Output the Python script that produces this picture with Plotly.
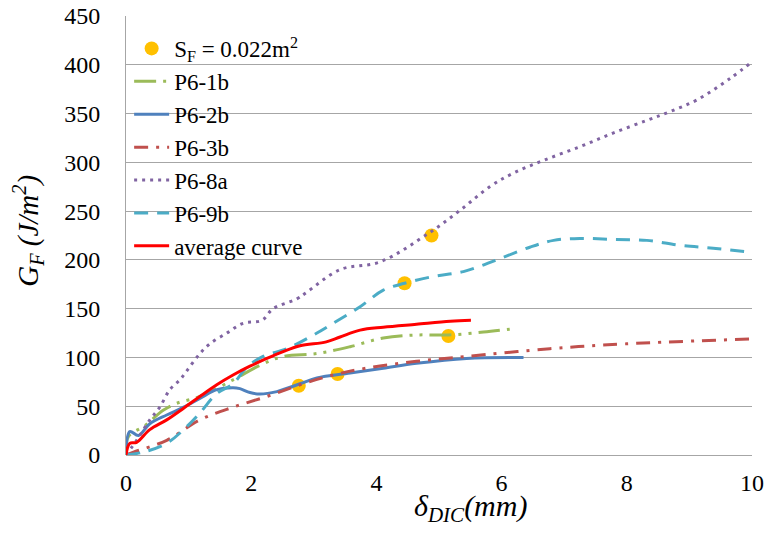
import plotly.graph_objects as go

# S_F = 0.022 m^2 points
sf_x = [2.76, 3.38, 4.45, 4.88, 5.15]
sf_y = [71, 83, 176, 225, 122]

p61b_x = [0, 0.04, 0.3, 0.6, 0.81, 1.18, 1.71, 2.14, 2.51, 3.05, 3.58, 4.11, 4.64, 5.15, 5.71, 6.13]
p61b_y = [0, 19, 30, 46, 53, 60, 77, 92, 101, 104, 111, 120, 123, 123, 126, 129]

p62b_x = [0, 0.06, 0.2, 0.38, 0.65, 0.92, 1.18, 1.45, 1.71, 1.82, 1.98, 2.14, 2.41, 2.78, 3.05, 3.58, 4.11, 4.64, 5.44, 6.35]
p62b_y = [0, 24, 20, 32, 41, 49, 58, 67, 69, 68, 64, 62.5, 65, 73, 79, 84, 89, 94, 99, 100]

p63b_x = [0, 0.12, 0.65, 1.18, 1.71, 2.25, 2.78, 3.31, 3.84, 4.64, 5.44, 6.77, 8.0, 10.0]
p63b_y = [0, 3, 15, 36, 49, 60, 72, 82, 89, 96, 101, 109, 114, 119]

p68a_x = [0, 0.17, 0.38, 0.54, 0.7, 0.86, 0.98, 1.18, 1.34, 1.61, 1.87, 2.17, 2.35, 2.73, 2.89, 3.42, 4.06,
          4.85, 5.34, 5.81, 6.19, 6.67, 7.25, 7.78, 8.32, 8.69, 9.12, 9.65, 10.0]
p68a_y = [0, 15, 36, 49, 67, 77, 87, 104, 114, 125, 135, 138, 150, 160, 167, 190, 198,
          228, 251, 275, 289, 302, 316, 330, 343, 352, 364, 386, 403]

p69b_x = [0, 0.28, 0.65, 0.97, 1.18, 1.45, 1.71, 1.93, 2.19, 2.57, 3.05, 3.31, 3.74, 4.11, 4.45, 4.91, 5.39,
          5.92, 6.45, 6.83, 7.25, 7.78, 8.32, 8.85, 9.38, 9.97]
p69b_y = [0, 3, 12, 29, 43, 63, 73, 90, 101, 109, 125, 135, 152, 169, 176, 183, 188,
          200, 213, 220, 222, 221, 220, 215, 212, 208]

avg_x = [0, 0.06, 0.17, 0.38, 0.65, 0.92, 1.18, 1.45, 1.71, 1.98, 2.25, 2.51, 2.78, 3.2, 3.42, 3.74, 4.11,
         4.64, 5.18, 5.51]
avg_y = [0, 12, 13, 26, 36, 48, 60, 72, 82, 91, 99, 106, 112, 116, 121, 128, 131, 134, 137, 138]

x_ticks = [0, 2, 4, 6, 8, 10]
y_ticks = [0, 50, 100, 150, 200, 250, 300, 350, 400, 450]

FONT = "Times New Roman"
FS = 24

fig = go.Figure()
fig.add_trace(go.Scatter(x=sf_x, y=sf_y, mode="markers", name="S<sub>F</sub> = 0.022m<sup>2</sup>",
                         marker=dict(color="#FFC000", size=14)))
fig.add_trace(go.Scatter(x=p61b_x, y=p61b_y, mode="lines", name="P6-1b", line_shape="spline",
                         line=dict(color="#9BBB59", width=3, dash="22px,7px,3px,7px,3px,7px")))
fig.add_trace(go.Scatter(x=p62b_x, y=p62b_y, mode="lines", name="P6-2b", line_shape="spline",
                         line=dict(color="#4F81BD", width=3)))
fig.add_trace(go.Scatter(x=p63b_x, y=p63b_y, mode="lines", name="P6-3b", line_shape="spline",
                         line=dict(color="#C0504D", width=3, dash="14px,8px,3px,8px")))
fig.add_trace(go.Scatter(x=p68a_x, y=p68a_y, mode="lines", name="P6-8a", line_shape="spline",
                         line=dict(color="#8064A2", width=3, dash="3px,5px")))
fig.add_trace(go.Scatter(x=p69b_x, y=p69b_y, mode="lines", name="P6-9b", line_shape="spline",
                         line=dict(color="#4BACC6", width=3, dash="14px,9px")))
fig.add_trace(go.Scatter(x=avg_x, y=avg_y, mode="lines", name="average curve", line_shape="spline",
                         line=dict(color="#FF0000", width=3)))

fig.update_layout(
    width=767, height=551,
    margin=dict(l=126, r=15, t=16, b=96, autoexpand=False),
    paper_bgcolor="white", plot_bgcolor="white",
    font=dict(family=FONT, size=FS, color="black"),
    legend=dict(x=0.005, y=0.975, xanchor="left", yanchor="top", bgcolor="rgba(0,0,0,0)",
                font=dict(family=FONT, size=23, color="black"), itemwidth=35, tracegroupgap=0),
    showlegend=True,
    annotations=[
        dict(text="<i>δ<sub>DIC</sub>(mm)</i>", xref="paper", yref="paper", x=0.55, y=-0.12,
             xanchor="center", yanchor="middle", showarrow=False, font=dict(family=FONT, size=30)),
        dict(text="<i>G<sub>F</sub> (J/m<sup>2</sup>)</i>", xref="paper", yref="paper", x=-0.157, y=0.51,
             xanchor="center", yanchor="middle", showarrow=False, textangle=-90,
             font=dict(family=FONT, size=29)),
    ],
)
fig.update_xaxes(range=[0, 10], tickvals=x_ticks, ticktext=[str(v) for v in x_ticks],
                 showgrid=False, zeroline=False, showline=False, ticks="", automargin=False,
                 tickfont=dict(family=FONT, size=FS), ticklabelstandoff=11, ticklabeloverflow="allow")
fig.update_yaxes(range=[0, 450], tickvals=y_ticks, ticktext=[str(v) for v in y_ticks],
                 showgrid=True, gridcolor="#A6A6A6", gridwidth=1, zeroline=True, zerolinecolor="#A6A6A6",
                 zerolinewidth=1, showline=True, linecolor="#A6A6A6", linewidth=1, ticks="", automargin=False,
                 tickfont=dict(family=FONT, size=FS), ticklabelstandoff=20, ticklabeloverflow="allow")

fig.write_html("out.html", config={"displayModeBar": False},
               post_script="document.body.style.margin='0';document.body.style.overflow='hidden';")
